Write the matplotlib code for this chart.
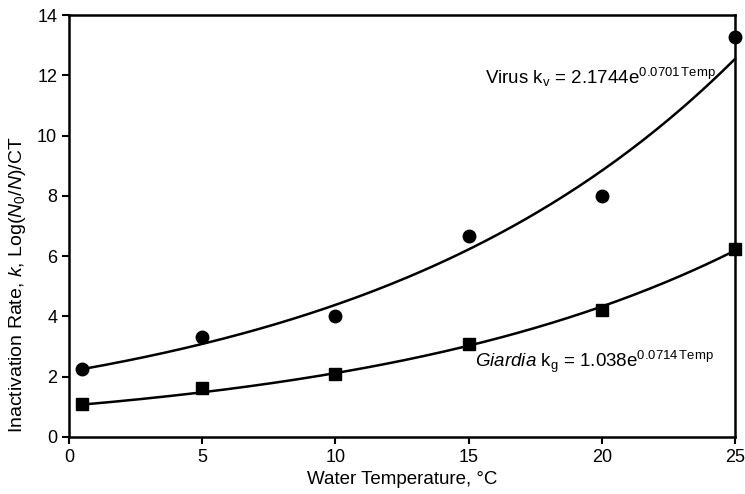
import numpy as np
import matplotlib
matplotlib.use("Agg")
import matplotlib.pyplot as plt

plt.rcParams['font.family'] = ['Liberation Sans', 'DejaVu Sans']
plt.rcParams['mathtext.fontset'] = 'custom'
plt.rcParams['mathtext.rm'] = 'Liberation Sans'
plt.rcParams['mathtext.it'] = 'Liberation Sans:italic'
plt.rcParams['mathtext.bf'] = 'Liberation Sans:bold'

# Data
temperature = [0.5, 5, 10, 15, 20, 25]
virus_k = [2.27, 3.32, 4.0, 6.68, 8.0, 13.27]
giardia_k = [1.09, 1.62, 2.1, 3.1, 4.2, 6.25]

# Fit coefficients shown on the chart: k = a * exp(b * Temp)
virus_fit = (2.1744, 0.0701)
giardia_fit = (1.038, 0.0714)

x_ticks = [0, 5, 10, 15, 20, 25]
y_ticks = [0, 2, 4, 6, 8, 10, 12, 14]

fig = plt.figure(figsize=(7.45, 4.94), dpi=100)
ax = fig.add_axes([0.0926, 0.1154, 0.894, 0.8542])

t = np.linspace(temperature[0], temperature[-1], 200)
ax.plot(t, virus_fit[0] * np.exp(virus_fit[1] * t), color='black', lw=1.8, clip_on=False)
ax.plot(t, giardia_fit[0] * np.exp(giardia_fit[1] * t), color='black', lw=1.8, clip_on=False)
ax.plot(temperature, virus_k, 'o', color='black', ms=9, clip_on=False, zorder=5)
ax.plot(temperature, giardia_k, 's', color='black', ms=9, clip_on=False, zorder=5)

ax.set_xlim(0, 25)
ax.set_ylim(0, 14)
ax.set_xticks(x_ticks)
ax.set_yticks(y_ticks)
ax.tick_params(direction='out', length=5, width=1.5, labelsize=13, colors='black')
for s in ax.spines.values():
    s.set_linewidth(1.8)

ax.set_xlabel('Water Temperature, °C', fontsize=13.5, labelpad=4)
ax.set_ylabel(r'Inactivation Rate, $\it{k}$, Log($\it{N}_\mathregular{0}$/$\it{N}$)/CT', fontsize=14)
ax.yaxis.set_label_coords(-0.062, 0.36)

ax.text(15.6, 11.94, r'Virus k$_\mathregular{v}$ = 2.1744e$^{\mathregular{0.0701}\,\mathregular{Temp}}$',
        fontsize=13.5, va='center', ha='left')
ax.text(15.25, 2.49, r'$\it{Giardia}$ k$_\mathregular{g}$ = 1.038e$^{\mathregular{0.0714}\,\mathregular{Temp}}$',
        fontsize=13.5, va='center', ha='left')

fig.savefig('out.png', dpi=100)
